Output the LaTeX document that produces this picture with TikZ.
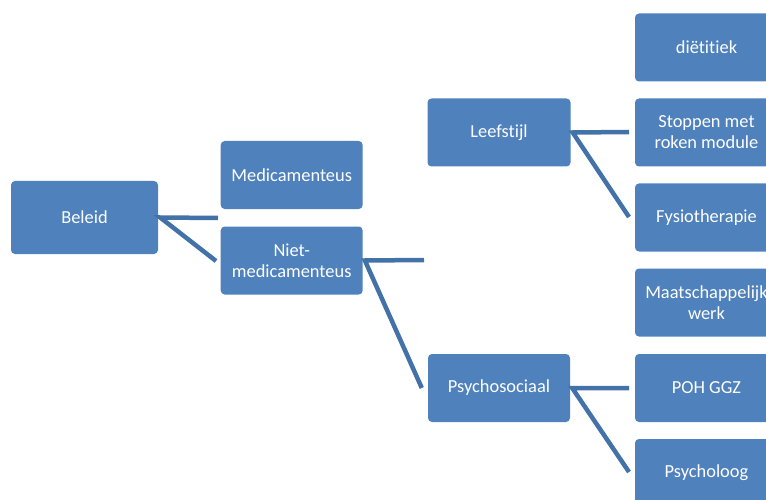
\documentclass[tikz,border=0pt]{standalone}
\usepackage{fontspec}
\setmainfont[Ligatures={NoCommon}]{Carlito}
\definecolor{boxblue}{HTML}{4F81BD}
\definecolor{lineblue}{HTML}{4372A8}
\begin{document}
\begin{tikzpicture}[x=1pt,y=-1pt,
  box/.style={rectangle, rounded corners=4pt, fill=boxblue, draw=none,
    minimum width=143pt, minimum height=68pt, inner sep=0pt,
    text=white, align=center, font=\fontsize{18.4}{21}\selectfont},
  conn/.style={draw=lineblue, line width=4.5pt, line join=miter}]
\useasboundingbox (0,0) rectangle (766,500);
\clip (0,0) rectangle (766,500);
% nodes
\node[box, minimum width=147pt, minimum height=73pt] (beleid) at (84.5,217.5) {Beleid};
\node[box, minimum width=142pt] (med) at (291.7,175) {Medicamenteus};
\node[box, minimum width=142pt] (niet) at (291.7,260.5) {Niet-\\medicamenteus};
\node[box] (leef) at (499,132.5) {Leefstijl};
\node[box, minimum width=142pt] (psy) at (499,388) {Psychosociaal};
\node[box] (diet) at (706.5,47.5) {diëtitiek};
\node[box] (stop) at (706.5,132.5) {Stoppen met\\roken module};
\node[box] (fysio) at (706.5,217.5) {Fysiotherapie};
\node[box] (maat) at (706.5,302.5) {Maatschappelijk\\werk};
\node[box] (poh) at (706.5,388) {POH GGZ};
\node[box] (psych) at (706.5,473) {Psycholoog};
% free ends of connectors
\coordinate (b1) at (218,218);
\coordinate (b2) at (216,261);
\coordinate (n1) at (424,260);
\coordinate (l1) at (629,132);
\coordinate (l2) at (629,217);
\coordinate (p1) at (629,388);
\coordinate (p2) at (629,472);
% connectors
\draw[conn] (b1) -- ([xshift=2pt]beleid.east) -- (b2);
\draw[conn] (n1) -- ([xshift=2pt]niet.east) -- ([xshift=-6pt]psy.west);
\draw[conn] (l1) -- ([xshift=2pt]leef.east) -- (l2);
\draw[conn] (p1) -- ([xshift=2pt]psy.east) -- (p2);
\end{tikzpicture}
\end{document}
